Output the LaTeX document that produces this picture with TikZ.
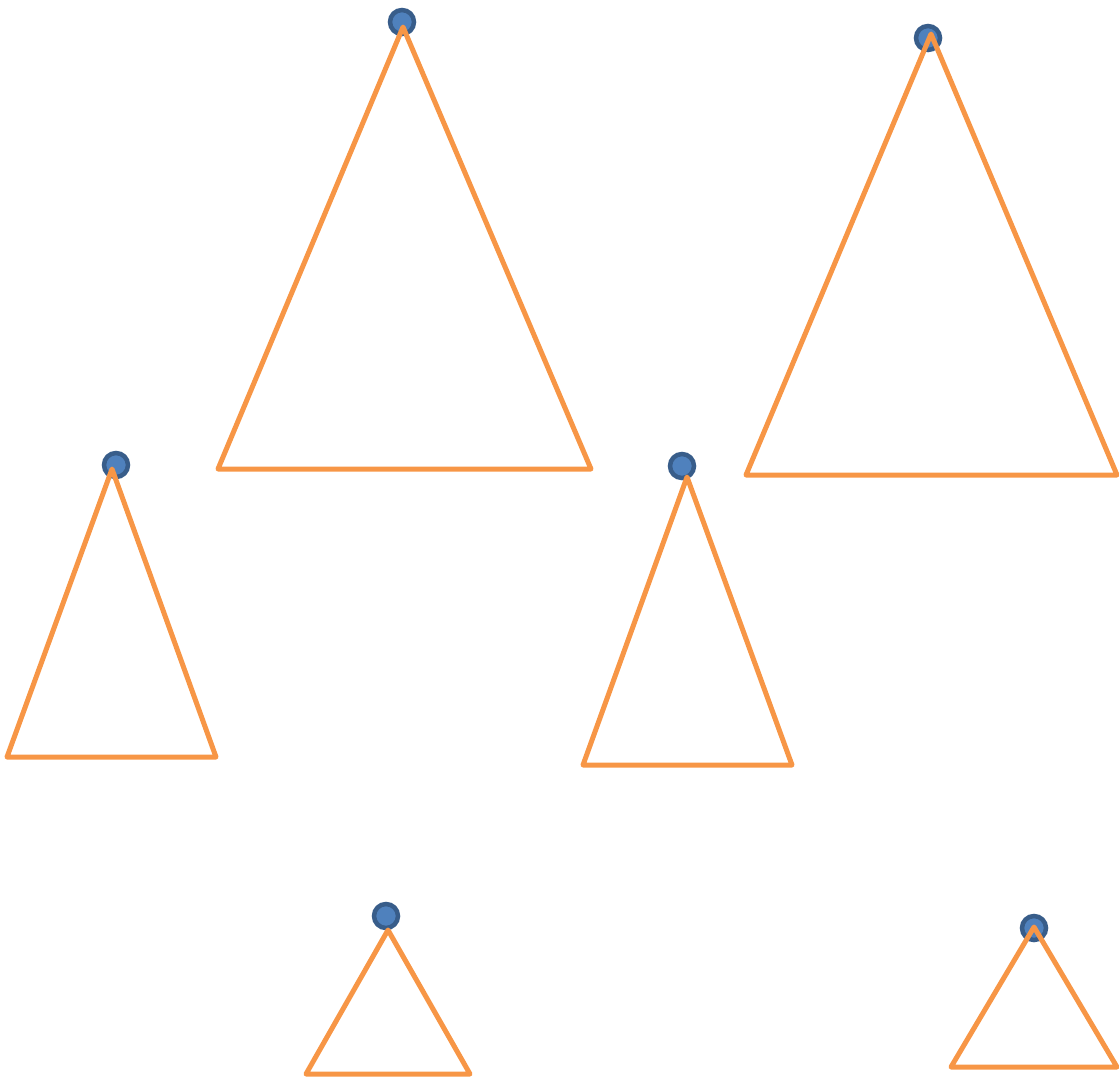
\documentclass[tikz,border=0pt]{standalone}
\definecolor{triorange}{HTML}{F79646}
\definecolor{balldark}{HTML}{385D8A}
\definecolor{ballfill}{HTML}{4F81BD}
\begin{document}
\begin{tikzpicture}[x=1pt,y=-1pt,
  tri/.style={draw=triorange,line width=5pt,line join=round,line cap=round},
  ball/.style={circle,draw=balldark,fill=ballfill,line width=4.5pt,minimum size=24pt,inner sep=0pt}]
\useasboundingbox (0,0) rectangle (1119,1077);
% balls
\node[ball] (b1) at (402,22) {};
\node[ball] (b2) at (928,38) {};
\node[ball] (b3) at (116,465) {};
\node[ball] (b4) at (682,466) {};
\node[ball] (b5) at (386,916) {};
\node[ball] (b6) at (1034,928) {};
% triangles
\draw[tri] (403,27) -- (591,469) -- (218,469) -- cycle;
\draw[tri] (931,34) -- (1117,475) -- (746,475) -- cycle;
\draw[tri] (112,469) -- (216,757) -- (7,757) -- cycle;
\draw[tri] (687,477) -- (792,765) -- (583,765) -- cycle;
\draw[tri] (388,930) -- (470,1074) -- (306,1074) -- cycle;
\draw[tri] (1034,927) -- (1117,1067) -- (951,1067) -- cycle;
\end{tikzpicture}
\end{document}
